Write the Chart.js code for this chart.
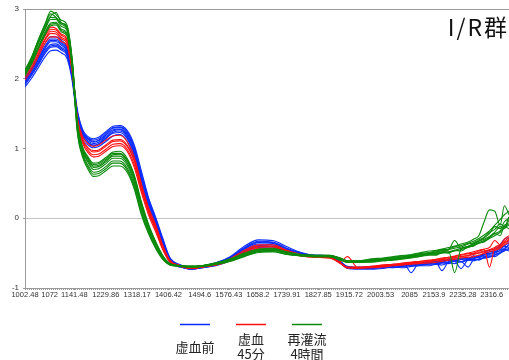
<!DOCTYPE html>
<html>
<head>
<meta charset="utf-8">
<script src="https://cdn.jsdelivr.net/npm/chart.js@4.4.1/dist/chart.umd.min.js"></script>
<style>
  body { margin: 0; background: #fff; }
  canvas { display: block; }
</style>
</head>
<body>
<canvas id="spectra" width="509" height="360"></canvas>
<script>
// Wavelengths (nm) at which every spectrum is sampled
const wavelengths = [1002, 1020, 1040, 1060, 1075, 1090, 1105, 1120, 1135, 1150, 1165, 1180, 1195, 1210, 1230,
  1250, 1270, 1290, 1310, 1330, 1350, 1370, 1390, 1410, 1440, 1470, 1500, 1540, 1580, 1620, 1660, 1700, 1740,
  1780, 1820, 1860, 1890, 1910, 1940, 1980, 2010, 2040, 2070, 2090, 2110, 2140, 2160, 2176, 2195, 2212, 2230,
  2250, 2265, 2280, 2295, 2310, 2325, 2340, 2352, 2365];

const xTickLabels = [1002.48, 1072, 1141.48, 1229.86, 1318.17, 1406.42, 1494.6, 1576.43, 1658.2, 1739.91,
  1827.85, 1915.72, 2003.53, 2085, 2153.9, 2235.28, 2316.6];

const groupTitle = "I/R群";
const groupLabels = [["虚血前"], ["虚血", "45分"], ["再灌流", "4時間"]];
const groupColors = ["#0a2cff", "#ff1010", "#0b8a0b"];

// 虚血前
const preIschemia = [
  [2.00, 2.14, 2.33, 2.52, 2.60, 2.60, 2.55, 2.46, 2.12, 1.55, 1.27, 1.17, 1.14, 1.16, 1.24, 1.32, 1.33, 1.26, 1.05, 0.68, 0.30, 0.02, -0.28, -0.56, -0.67, -0.71, -0.69, -0.64, -0.55, -0.40, -0.31, -0.32, -0.41, -0.49, -0.53, -0.54, -0.62, -0.70, -0.71, -0.70, -0.69, -0.66, -0.67, -0.64, -0.65, -0.62, -0.63, -0.60, -0.61, -0.58, -0.59, -0.56, -0.57, -0.53, -0.52, -0.48, -0.47, -0.42, -0.40, -0.33],
  [1.97, 2.10, 2.28, 2.46, 2.55, 2.55, 2.50, 2.42, 2.08, 1.50, 1.23, 1.14, 1.10, 1.12, 1.20, 1.29, 1.30, 1.22, 1.00, 0.61, 0.25, -0.02, -0.32, -0.58, -0.68, -0.72, -0.70, -0.65, -0.57, -0.43, -0.34, -0.35, -0.44, -0.51, -0.54, -0.55, -0.63, -0.70, -0.71, -0.71, -0.68, -0.69, -0.66, -0.78, -0.65, -0.64, -0.62, -0.63, -0.60, -0.61, -0.58, -0.59, -0.55, -0.56, -0.52, -0.50, -0.49, -0.44, -0.45, -0.36],
  [1.94, 2.07, 2.24, 2.41, 2.49, 2.50, 2.45, 2.38, 2.05, 1.46, 1.20, 1.11, 1.07, 1.09, 1.17, 1.25, 1.27, 1.18, 0.95, 0.55, 0.20, -0.06, -0.36, -0.60, -0.69, -0.72, -0.70, -0.66, -0.58, -0.45, -0.37, -0.38, -0.46, -0.52, -0.54, -0.55, -0.63, -0.71, -0.72, -0.71, -0.70, -0.68, -0.68, -0.66, -0.66, -0.65, -0.64, -0.75, -0.62, -0.60, -0.62, -0.59, -0.58, -0.56, -0.55, -0.52, -0.50, -0.46, -0.40, -0.42],
  [1.91, 2.04, 2.20, 2.37, 2.45, 2.46, 2.41, 2.34, 2.02, 1.43, 1.17, 1.08, 1.04, 1.06, 1.14, 1.22, 1.23, 1.14, 0.90, 0.50, 0.15, -0.10, -0.39, -0.62, -0.70, -0.73, -0.71, -0.67, -0.60, -0.48, -0.40, -0.41, -0.48, -0.53, -0.55, -0.56, -0.64, -0.71, -0.72, -0.72, -0.71, -0.70, -0.69, -0.68, -0.67, -0.66, -0.65, -0.64, -0.63, -0.62, -0.72, -0.60, -0.61, -0.58, -0.57, -0.55, -0.52, -0.49, -0.46, -0.44],
  [1.88, 2.00, 2.16, 2.32, 2.40, 2.41, 2.37, 2.30, 1.98, 1.40, 1.13, 1.05, 1.01, 1.03, 1.10, 1.18, 1.20, 1.10, 0.85, 0.45, 0.10, -0.14, -0.42, -0.63, -0.70, -0.73, -0.71, -0.68, -0.61, -0.50, -0.42, -0.43, -0.49, -0.53, -0.55, -0.56, -0.64, -0.72, -0.73, -0.73, -0.72, -0.70, -0.71, -0.69, -0.68, -0.68, -0.66, -0.67, -0.64, -0.65, -0.62, -0.70, -0.60, -0.59, -0.57, -0.56, -0.53, -0.50, -0.47, -0.43],
  [1.99, 2.12, 2.30, 2.48, 2.57, 2.57, 2.52, 2.44, 2.10, 1.52, 1.25, 1.15, 1.12, 1.14, 1.22, 1.30, 1.31, 1.24, 1.02, 0.64, 0.28, 0.00, -0.30, -0.57, -0.67, -0.71, -0.69, -0.64, -0.56, -0.42, -0.33, -0.34, -0.43, -0.50, -0.53, -0.54, -0.62, -0.69, -0.70, -0.69, -0.70, -0.67, -0.66, -0.67, -0.64, -0.65, -0.61, -0.62, -0.59, -0.60, -0.57, -0.58, -0.54, -0.55, -0.50, -0.46, -0.44, -0.38, -0.30, -0.28],
  [1.96, 2.09, 2.27, 2.44, 2.53, 2.53, 2.48, 2.40, 2.07, 1.48, 1.22, 1.13, 1.09, 1.11, 1.19, 1.27, 1.28, 1.20, 0.98, 0.58, 0.23, -0.04, -0.34, -0.59, -0.68, -0.72, -0.70, -0.65, -0.57, -0.44, -0.35, -0.36, -0.45, -0.51, -0.54, -0.55, -0.63, -0.70, -0.71, -0.70, -0.69, -0.68, -0.67, -0.65, -0.66, -0.63, -0.64, -0.62, -0.61, -0.62, -0.59, -0.58, -0.57, -0.55, -0.53, -0.51, -0.48, -0.47, -0.43, -0.39],
  [1.92, 2.05, 2.22, 2.39, 2.47, 2.48, 2.43, 2.36, 2.03, 1.44, 1.18, 1.09, 1.05, 1.07, 1.15, 1.23, 1.25, 1.16, 0.92, 0.52, 0.17, -0.08, -0.38, -0.61, -0.69, -0.73, -0.71, -0.67, -0.59, -0.47, -0.39, -0.40, -0.47, -0.52, -0.55, -0.56, -0.64, -0.71, -0.72, -0.72, -0.70, -0.71, -0.68, -0.67, -0.68, -0.65, -0.66, -0.64, -0.65, -0.61, -0.63, -0.60, -0.59, -0.60, -0.56, -0.54, -0.55, -0.50, -0.44, -0.47]
];

// 虚血 45分
const ischemia45 = [
  [2.08, 2.24, 2.44, 2.64, 2.74, 2.72, 2.64, 2.58, 2.20, 1.42, 1.13, 1.00, 0.95, 0.96, 1.03, 1.10, 1.11, 1.03, 0.82, 0.46, 0.13, -0.12, -0.40, -0.61, -0.68, -0.71, -0.70, -0.66, -0.59, -0.48, -0.40, -0.40, -0.47, -0.52, -0.55, -0.56, -0.64, -0.70, -0.70, -0.69, -0.67, -0.66, -0.64, -0.63, -0.62, -0.60, -0.59, -0.58, -0.56, -0.55, -0.53, -0.51, -0.50, -0.47, -0.45, -0.70, -0.42, -0.38, -0.30, -0.25],
  [2.04, 2.19, 2.39, 2.58, 2.68, 2.67, 2.59, 2.54, 2.16, 1.40, 1.10, 0.97, 0.91, 0.92, 0.99, 1.06, 1.07, 0.99, 0.77, 0.41, 0.09, -0.16, -0.43, -0.62, -0.69, -0.72, -0.70, -0.67, -0.61, -0.51, -0.43, -0.43, -0.49, -0.54, -0.56, -0.57, -0.65, -0.71, -0.71, -0.70, -0.68, -0.67, -0.66, -0.64, -0.63, -0.62, -0.60, -0.59, -0.58, -0.56, -0.55, -0.53, -0.51, -0.49, -0.47, -0.45, -0.42, -0.40, -0.35, -0.30],
  [1.98, 2.12, 2.32, 2.52, 2.60, 2.60, 2.53, 2.48, 2.10, 1.44, 1.17, 1.07, 1.03, 1.05, 1.12, 1.18, 1.19, 1.10, 0.88, 0.50, 0.16, -0.09, -0.38, -0.60, -0.68, -0.72, -0.70, -0.66, -0.58, -0.46, -0.38, -0.38, -0.46, -0.52, -0.55, -0.56, -0.64, -0.71, -0.72, -0.71, -0.70, -0.68, -0.67, -0.66, -0.65, -0.64, -0.63, -0.62, -0.60, -0.59, -0.57, -0.56, -0.55, -0.53, -0.50, -0.48, -0.46, -0.43, -0.38, -0.35],
  [2.07, 2.22, 2.42, 2.62, 2.71, 2.70, 2.62, 2.56, 2.18, 1.37, 1.07, 0.94, 0.88, 0.89, 0.96, 1.03, 1.04, 0.96, 0.73, 0.37, 0.05, -0.19, -0.45, -0.63, -0.69, -0.71, -0.70, -0.67, -0.61, -0.51, -0.44, -0.44, -0.50, -0.54, -0.56, -0.57, -0.62, -0.55, -0.71, -0.69, -0.67, -0.66, -0.65, -0.63, -0.62, -0.61, -0.59, -0.57, -0.56, -0.54, -0.52, -0.50, -0.48, -0.46, -0.44, -0.42, -0.32, -0.38, -0.33, -0.28],
  [2.02, 2.16, 2.36, 2.56, 2.65, 2.64, 2.57, 2.51, 2.13, 1.41, 1.12, 1.01, 0.97, 0.98, 1.05, 1.12, 1.13, 1.05, 0.83, 0.45, 0.12, -0.13, -0.41, -0.61, -0.68, -0.72, -0.70, -0.66, -0.60, -0.49, -0.41, -0.41, -0.48, -0.53, -0.55, -0.56, -0.64, -0.71, -0.71, -0.70, -0.69, -0.67, -0.66, -0.65, -0.64, -0.62, -0.61, -0.60, -0.58, -0.57, -0.55, -0.54, -0.52, -0.50, -0.48, -0.46, -0.44, -0.41, -0.36, -0.32]
];

// 再灌流 4時間
const reperfusion4h = [
  [2.12, 2.30, 2.56, 2.80, 2.97, 2.92, 2.84, 2.78, 2.30, 1.38, 1.02, 0.88, 0.79, 0.80, 0.87, 0.95, 0.96, 0.86, 0.62, 0.24, -0.08, -0.33, -0.53, -0.65, -0.68, -0.69, -0.68, -0.64, -0.58, -0.50, -0.44, -0.43, -0.48, -0.52, -0.53, -0.53, -0.57, -0.61, -0.61, -0.58, -0.57, -0.55, -0.53, -0.52, -0.50, -0.47, -0.46, -0.44, -0.42, -0.40, -0.37, -0.34, -0.30, -0.25, -0.05, 0.12, 0.10, -0.10, 0.18, 0.05],
  [2.10, 2.28, 2.53, 2.76, 2.90, 2.95, 2.80, 2.74, 2.27, 1.34, 0.99, 0.84, 0.75, 0.76, 0.83, 0.91, 0.92, 0.82, 0.58, 0.20, -0.11, -0.35, -0.55, -0.66, -0.68, -0.69, -0.68, -0.65, -0.59, -0.52, -0.46, -0.45, -0.49, -0.53, -0.54, -0.54, -0.58, -0.62, -0.62, -0.60, -0.58, -0.57, -0.55, -0.54, -0.52, -0.50, -0.48, -0.47, -0.45, -0.32, -0.43, -0.40, -0.36, -0.33, -0.28, -0.22, -0.12, -0.15, -0.05, 0.00],
  [2.08, 2.25, 2.50, 2.72, 2.85, 2.85, 2.75, 2.70, 2.24, 1.30, 0.95, 0.80, 0.70, 0.71, 0.78, 0.86, 0.86, 0.76, 0.52, 0.15, -0.15, -0.38, -0.56, -0.66, -0.68, -0.69, -0.68, -0.65, -0.60, -0.53, -0.47, -0.46, -0.50, -0.53, -0.54, -0.54, -0.58, -0.62, -0.62, -0.61, -0.59, -0.58, -0.56, -0.55, -0.53, -0.51, -0.50, -0.48, -0.47, -0.78, -0.44, -0.41, -0.38, -0.35, -0.32, -0.27, -0.22, -0.18, -0.10, -0.08],
  [2.06, 2.22, 2.46, 2.68, 2.80, 2.81, 2.71, 2.66, 2.21, 1.27, 0.92, 0.76, 0.66, 0.67, 0.74, 0.82, 0.82, 0.72, 0.48, 0.11, -0.18, -0.40, -0.57, -0.66, -0.68, -0.70, -0.69, -0.66, -0.61, -0.54, -0.48, -0.47, -0.51, -0.53, -0.54, -0.55, -0.59, -0.63, -0.63, -0.62, -0.60, -0.59, -0.57, -0.56, -0.54, -0.52, -0.51, -0.49, -0.48, -0.46, -0.43, -0.40, -0.37, -0.33, -0.30, -0.26, -0.20, -0.12, -0.15, -0.02],
  [2.04, 2.20, 2.43, 2.64, 2.76, 2.77, 2.67, 2.62, 2.18, 1.22, 0.87, 0.70, 0.60, 0.61, 0.68, 0.75, 0.75, 0.66, 0.42, 0.05, -0.22, -0.43, -0.59, -0.67, -0.69, -0.70, -0.69, -0.66, -0.62, -0.55, -0.49, -0.48, -0.52, -0.54, -0.55, -0.55, -0.60, -0.63, -0.63, -0.63, -0.61, -0.60, -0.58, -0.57, -0.55, -0.53, -0.52, -0.50, -0.49, -0.47, -0.45, -0.42, -0.39, -0.36, -0.33, -0.29, -0.25, -0.20, -0.14, -0.10],
  [2.11, 2.29, 2.55, 2.79, 2.93, 2.88, 2.80, 2.76, 2.28, 1.36, 1.00, 0.86, 0.77, 0.78, 0.85, 0.93, 0.93, 0.84, 0.60, 0.22, -0.10, -0.34, -0.54, -0.65, -0.68, -0.69, -0.68, -0.64, -0.59, -0.51, -0.45, -0.44, -0.49, -0.52, -0.53, -0.53, -0.57, -0.61, -0.61, -0.59, -0.58, -0.56, -0.54, -0.53, -0.51, -0.49, -0.47, -0.45, -0.44, -0.41, -0.39, -0.36, -0.33, -0.29, -0.24, -0.18, -0.10, -0.02, 0.05, 0.10],
  [2.09, 2.27, 2.52, 2.74, 2.88, 2.87, 2.78, 2.72, 2.25, 1.32, 0.97, 0.82, 0.73, 0.74, 0.81, 0.89, 0.89, 0.79, 0.55, 0.18, -0.13, -0.36, -0.55, -0.66, -0.68, -0.69, -0.68, -0.65, -0.60, -0.52, -0.46, -0.45, -0.50, -0.53, -0.54, -0.54, -0.58, -0.62, -0.62, -0.60, -0.59, -0.57, -0.56, -0.54, -0.53, -0.50, -0.49, -0.46, -0.45, -0.43, -0.41, -0.37, -0.35, -0.31, -0.27, -0.20, -0.16, -0.08, -0.12, 0.02],
  [2.05, 2.21, 2.44, 2.66, 2.78, 2.79, 2.69, 2.64, 2.20, 1.25, 0.90, 0.73, 0.63, 0.64, 0.71, 0.79, 0.79, 0.69, 0.45, 0.08, -0.20, -0.42, -0.58, -0.67, -0.69, -0.70, -0.69, -0.66, -0.61, -0.54, -0.48, -0.48, -0.52, -0.54, -0.55, -0.55, -0.59, -0.63, -0.63, -0.62, -0.61, -0.59, -0.58, -0.56, -0.55, -0.52, -0.53, -0.49, -0.50, -0.46, -0.47, -0.41, -0.40, -0.35, -0.34, -0.28, -0.22, -0.25, -0.12, -0.15]
];

const groups = [preIschemia, ischemia45, reperfusion4h];

// one thin line per spectrum, later groups drawn over earlier ones
const datasets = [];
groups.forEach((spectra, g) => {
  spectra.forEach(values => {
    datasets.push({
      data: values.map((v, i) => ({ x: wavelengths[i], y: v })),
      borderColor: groupColors[g],
      borderWidth: 1.1,
      pointRadius: 0,
      cubicInterpolationMode: "monotone",
      order: groups.length - g
    });
  });
});

// title, minor x ticks and the legend under the axis
const decorations = {
  id: "decorations",
  afterDraw(chart) {
    const { ctx, chartArea } = chart;
    ctx.save();

    ctx.strokeStyle = "#9a9a9a";
    ctx.lineWidth = 1;
    ctx.beginPath();
    for (let px = chartArea.left; px <= chartArea.right; px += 2) {
      ctx.moveTo(Math.round(px) + 0.5, chartArea.bottom);
      ctx.lineTo(Math.round(px) + 0.5, chartArea.bottom + 2);
    }
    ctx.stroke();

    ctx.fillStyle = "#111";
    ctx.font = '23px "Noto Sans CJK JP"';
    ctx.letterSpacing = "2px";
    ctx.textAlign = "right";
    ctx.textBaseline = "middle";
    ctx.fillText(groupTitle, 509, 27);
    ctx.letterSpacing = "0px";

    ctx.font = '13px "Noto Sans CJK JP"';
    ctx.textAlign = "center";
    groupLabels.forEach((lines, i) => {
      const cx = 195 + i * 56;
      ctx.strokeStyle = groupColors[i];
      ctx.lineWidth = 1.5;
      ctx.beginPath();
      ctx.moveTo(cx - 15, 324.5);
      ctx.lineTo(cx + 15, 324.5);
      ctx.stroke();
      ctx.fillStyle = "#222";
      if (lines.length === 1) {
        ctx.fillText(lines[0], cx, 347);
      } else {
        ctx.fillText(lines[0], cx, 339);
        ctx.fillText(lines[1], cx, 354);
      }
    });
    ctx.restore();
  }
};

new Chart(document.getElementById("spectra"), {
  type: "line",
  data: { datasets },
  options: {
    responsive: false,
    animation: false,
    devicePixelRatio: 1,
    layout: { padding: { top: 9, right: 0, bottom: 56, left: 0 } },
    plugins: { legend: { display: false }, tooltip: { enabled: false } },
    scales: {
      x: {
        type: "linear",
        min: 1002.48,
        max: 2365,
        afterBuildTicks: scale => { scale.ticks = xTickLabels.map(v => ({ value: v })); },
        afterFit: scale => { scale.height = 16; },
        ticks: {
          autoSkip: false,
          maxRotation: 0,
          minRotation: 0,
          padding: 0,
          color: "#333",
          font: { family: "Liberation Sans", size: 7.5 },
          callback: v => String(v)
        },
        grid: { drawOnChartArea: false, tickLength: 2, color: "#9a9a9a" },
        border: { color: "#9a9a9a" }
      },
      y: {
        min: -1,
        max: 3,
        afterFit: scale => { scale.width = 25; },
        ticks: {
          stepSize: 1,
          padding: 4,
          color: "#333",
          font: { family: "Liberation Sans", size: 8 }
        },
        grid: {
          tickLength: 2,
          tickColor: "#9a9a9a",
          color: c => (c.tick && c.tick.value === 3) ? "#9a9a9a" : (c.tick && c.tick.value === 0) ? "#c4c4c4" : "rgba(0,0,0,0)"
        },
        border: { color: "#9a9a9a" }
      }
    }
  },
  plugins: [decorations]
});
</script>
</body>
</html>
